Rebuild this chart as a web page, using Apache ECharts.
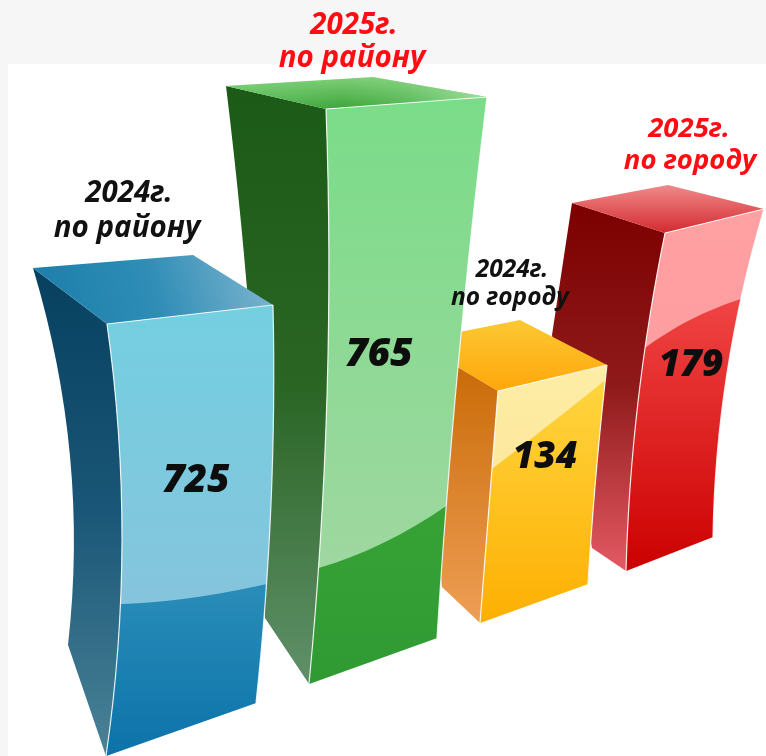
<!DOCTYPE html>
<html><head><meta charset="utf-8">
<style>html,body{margin:0;padding:0;background:#f6f6f6}#c{width:766px;height:756px}</style>
<script src="https://cdn.jsdelivr.net/npm/echarts@6/dist/echarts.min.js"></script>
</head><body><div id="c"></div>
<script>
// ---- data ----
const categories = ['2024г.\nпо району', '2025г.\nпо району', '2024г.\nпо городу', '2025г.\nпо городу'];
const values = [725, 765, 134, 179];
// The artwork is not drawn to scale: pictured front-edge height and floor lift of every bar
const picturedHeights = [432, 575, 232, 338];
const floorLift = [0, 72, 133, 185];
// painter's order, back to front
const drawOrder = [3, 2, 1, 0];

// ---- styling: bar silhouettes, offsets from the front-bottom corner ----
function lg(x, y, x2, y2, stops) {
  return new echarts.graphic.LinearGradient(x, y, x2, y2, stops.map((c, i) => Array.isArray(c) ? {offset: c[0], color: c[1]} : {offset: i / (stops.length - 1), color: c}));
}
const looks = [
  { shift: 3.25, tl: [-73,-488], tb: [87,-501], tr: [167,-451], tf: [1,-432], bl: [-38,-111], br: [150,-53],
    lm: [-36,-300], flm: [16,-216], frm: [165,-252], glY: -152, grY: -172, gm: [84,-158],
    top: lg(0,1,1,0,['#1a7ea9','#2f8db6','#82b7d0']), side: lg(0,0,0,1,['#07405f','#1a5677','#4a8397']),
    gloss: lg(0,0,0,1,['#74cfe0','#8dbfdb']), lower: lg(0,0,0,1,['#2a8db9','#0c72a9']),
    label: {color:'#111', size:29.5, dy:[-562,-527], dx:[23,21]}, val:{pos:[90,-275], size:38.5} },
  { shift: 16.75, tl: [-83,-598], tb: [64,-607], tr: [178,-587], tf: [17,-575], bl: [-44,-66], br: [128,-46],
    lm: [-57,-332], flm: [18,-288], frm: [149,-317], glY: -116, grY: -178, gm: [74,-141],
    top: lg(0,0,0,1,['#7ed078','#3ca53a']), sheen: lg(0,0,1,0,[[0,'rgba(140,220,140,0.35)'],[0.45,'rgba(140,220,140,0)'],[0.7,'rgba(160,225,160,0.25)'],[1,'rgba(170,230,170,0.85)']]),
    side: lg(0,0,0,1,['#1c5a17','#2a6524','#60906a']),
    gloss: lg(0,0,0,1,['#7adc88','#a8d6a6']), lower: lg(0,0,0,1,['#37a336','#2f9a32']),
    label: {color:'#ff0d12', size:29.5, dy:[-658,-625], dx:[45,43]}, val:{pos:[70,-329], size:38.5} },
  { shift: -1.75, tl: [-66,-282], tb: [40,-303], tr: [127,-258], tf: [18,-232], bl: [-38,-36], br: [108,-39],
    lm: [-52,-159], flm: [9,-116], frm: [116,-148], glY: -154, grY: -243, gm: [70,-199],
    top: lg(0,0,0,1,['#fcc832','#ffa70b']), side: lg(0,0,0,1,['#c66600','#ee9e55']),
    gloss: lg(0,0,0,1,['#fdeda6','#fde08f']), lower: lg(0,0,0,1,['#ffd53f','#fdaf02']),
    label: {color:'#111', size:24.5, dy:[-353,-325], dx:[32,30]}, val:{pos:[65,-166], size:37} },
  { shift: -45.25, tl: [-54,-368], tb: [42,-386], tr: [138,-362], tf: [39,-338], bl: [-34,-23], br: [87,-34],
    lm: [-74,-236], kneeLeft: true, flm: [12,-169], frm: [101,-198], glY: -223, grY: -272, gm: [64,-251],
    top: lg(0,0,0,1,['#ef8a8a','#d42a30']), side: lg(0,0,0,1,['#7c0000','#8f1a1a','#e45a64']),
    gloss: lg(0,0,0,1,['#ffa0a3','#ff9a9d']), lower: lg(0,0,0,1,['#f04444','#cc0000']),
    label: {color:'#ff0d12', size:27.5, dy:[-442,-410], dx:[63,64]}, val:{pos:[65,-206], size:37} }
];

function curve(a, m, b, n) {
  const c = [2*m[0]-(a[0]+b[0])/2, 2*m[1]-(a[1]+b[1])/2], out = [];
  n = n || 16;
  for (let i = 0; i <= n; i++) {
    const t = i/n, u = 1-t;
    out.push([u*u*a[0]+2*u*t*c[0]+t*t*b[0], u*u*a[1]+2*u*t*c[1]+t*t*b[1]]);
  }
  return out;
}
function cutBelow(edge, y) {
  const out = [];
  for (let i = 0; i < edge.length; i++) {
    if (edge[i][1] >= y) {
      if (i > 0 && edge[i-1][1] < y) {
        const p = edge[i-1], q = edge[i], t = (y-p[1])/(q[1]-p[1]);
        out.push([p[0]+(q[0]-p[0])*t, y]);
      }
      out.push(edge[i]);
    }
  }
  return out;
}

function renderItem(params, api) {
  const i = api.value(0), lift = api.value(1), h = api.value(2), L = looks[i];
  const a = api.coord([i, lift]), t = api.coord([i, lift + h]);
  const k = (a[1] - t[1]) / -L.tf[1];
  const ox = a[0] + L.shift, oy = a[1];
  const P = p => [ox + p[0], oy + p[1]*k];
  const F = P([0,0]), TL = P(L.tl), TB = P(L.tb), TR = P(L.tr), TF = P(L.tf), BL = P(L.bl), BR = P(L.br);
  const leftEdge = L.kneeLeft ? [TL, P(L.lm), BL] : curve(TL, P(L.lm), BL);
  const frontL = curve(TF, P(L.flm), F);
  const frontR = curve(TR, P(L.frm), BR);
  const gly = oy + L.glY*k, gry = oy + L.grY*k;
  const lowL = cutBelow(frontL, gly), lowR = cutBelow(frontR, gry);
  const glossLine = curve(lowR[0], P(L.gm), lowL[0]);
  const edge = {stroke:'rgba(255,255,255,0.85)', lineWidth:1.2, fill:null};
  const poly = (pts, fill) => ({type:'polygon', shape:{points:pts}, style:{fill: fill}, silent:true});
  const line = pts => ({type:'polyline', shape:{points:pts}, style:edge, silent:true});
  const children = [
    poly(leftEdge.concat([F]).concat(frontL.slice().reverse()), L.side),
    poly([TL, TB, TR, TF], L.top)
  ];
  if (L.sheen) children.push(poly([TL, TB, TR, TF], L.sheen));
  children.push(
    poly(frontL.concat(frontR.slice().reverse()), L.gloss),
    poly(lowL.concat(lowR.slice().reverse()).concat(glossLine.slice(1,-1)), L.lower),
    line(frontL), line(frontR), line([TF, TR])
  );
  return {type:'group', children};
}
function renderText(params, api) {
  const i = api.value(0), lift = api.value(1), L = looks[i];
  const a = api.coord([i, lift]);
  const ox = a[0] + L.shift, oy = a[1];
  const fam = '"Open Sans", sans-serif';
  const lines = categories[i].split('\n');
  const txt = (s, x, y, size, color, w) => ({type:'text', silent:true, style:{text:s, x:ox+x, y:oy+y, fill:color,
    font:'italic '+w+' '+size+'px '+fam, align:'center', verticalAlign:'middle'}});
  return {type:'group', children:[
    txt(String(api.value(3)), L.val.pos[0], L.val.pos[1], L.val.size, '#0d0d0d', 800),
    txt(lines[0], L.label.dx[0], L.label.dy[0], L.label.size, L.label.color, 700),
    txt(lines[1], L.label.dx[1], L.label.dy[1], L.label.size, L.label.color, 700)
  ]};
}

const rows = drawOrder.map(i => [i, floorLift[i], picturedHeights[i], values[i]]);
const chart = echarts.init(document.getElementById('c'), null, {renderer:'canvas'});
chart.setOption({
  animation:false,
  backgroundColor:'#f6f6f6',
  grid:{show:true, left:8, top:64, right:0, bottom:0, backgroundColor:'#ffffff', borderWidth:0},
  xAxis:{type:'category', data:categories, show:false},
  yAxis:{type:'value', min:0, max:692, show:false},
  series:[
    {type:'custom', renderItem, data:rows, clip:false, encode:{x:0,y:1}, z:2},
    {type:'custom', renderItem:renderText, data:rows, clip:false, encode:{x:0,y:1}, z:3}
  ]
});
</script></body></html>
